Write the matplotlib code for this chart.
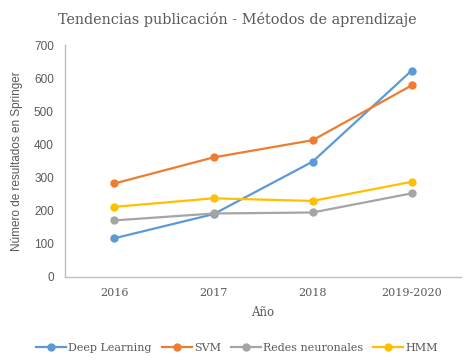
import matplotlib.pyplot as plt
import numpy as np

# Data
years = ['2016', '2017', '2018', '2019-2020']
deep_learning = [116, 189, 348, 624]
svm = [282, 361, 413, 579]
redes_neuronales = [170, 191, 194, 252]
hmm = [211, 237, 229, 287]

series = [
    ('Deep Learning', deep_learning, '#5B9BD5'),
    ('SVM', svm, '#ED7D31'),
    ('Redes neuronales', redes_neuronales, '#A5A5A5'),
    ('HMM', hmm, '#FFC000'),
]

text_col = '#595959'
axis_col = '#BFBFBF'

fig = plt.figure(figsize=(4.74, 3.61), dpi=100)
ax = fig.add_axes([0.137, 0.234, 0.836, 0.640])

x = np.arange(len(years))
for name, vals, col in series:
    ax.plot(x, vals, color=col, linewidth=1.6, marker='o', markersize=5, label=name)

ax.set_xlim(-0.5, len(years) - 0.5)
ax.set_ylim(0, 700)
ax.set_yticks(range(0, 701, 100))
ax.set_xticks(x)
ax.set_xticklabels(years, family='DejaVu Serif', fontsize=8, color=text_col)
for lbl in ax.get_yticklabels():
    lbl.set_family('Liberation Sans')
    lbl.set_fontsize(8.5)
    lbl.set_color(text_col)
ax.tick_params(axis='both', length=0, pad=8)

for side in ['top', 'right']:
    ax.spines[side].set_visible(False)
for side in ['left', 'bottom']:
    ax.spines[side].set_color(axis_col)
    ax.spines[side].set_linewidth(1)

ax.set_xlabel('Año', family='DejaVu Serif', fontsize=8.5, color=text_col, labelpad=6)
ax.set_ylabel('Número de resultados en Springer', family='Liberation Sans', fontsize=8.5,
              color=text_col, labelpad=8)

fig.text(0.5, 0.945, 'Tendencias publicación - Métodos de aprendizaje', ha='center', va='center',
         family='DejaVu Serif', fontsize=10.4, color=text_col)

fig.legend(loc='center', bbox_to_anchor=(0.5, 0.036), ncol=4, frameon=False,
           prop={'family': 'DejaVu Serif', 'size': 8}, labelcolor=text_col,
           handlelength=2.7, handletextpad=0.2, columnspacing=0.9)

fig.savefig('out.png', dpi=100)
